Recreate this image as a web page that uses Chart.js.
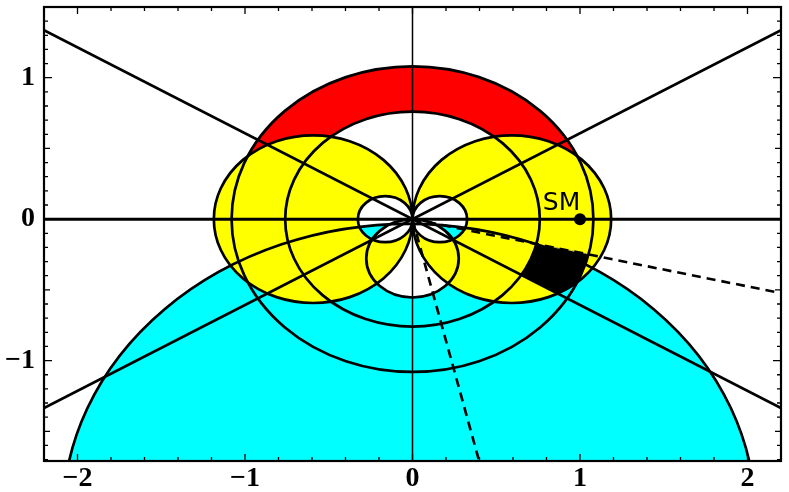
<!DOCTYPE html>
<html>
<head>
<meta charset="utf-8">
<script src="https://cdn.jsdelivr.net/npm/chart.js@4/dist/chart.umd.min.js"></script>
<style>
  html, body { margin: 0; padding: 0; background: #fff; }
  #wrap { width: 789px; height: 492px; }
</style>
</head>
<body>
<div id="wrap"><canvas id="plot"></canvas></div>
<script>
const xTicks = [-2, -1, 0, 1, 2];
const xTickLabels = ['\u22122', '\u22121', '0', '1', '2'];
const yTicks = [-1, 0, 1];
const yTickLabels = ['\u22121', '0', '1'];

// circles as [centre x, centre y, radius]
const cyanDisc = [-0.02, -2.1, 2.067];
const cyanHoles = [[0, -0.278, 0.276]];
const ringRadii = [0.76, 1.08];
const yellowLobes = [[-0.593, 0, 0.593], [0.593, 0, 0.593]];
const yellowHoles = [[-0.163, 0, 0.163], [0.163, 0, 0.163]];
const blackRadii = [0.76, 1.08];
const blackAngles = [-31.3, -13.3];

const solidLines = [
  [{x: -2.2, y: 1.336}, {x: 2.2, y: -1.336}],
  [{x: -2.2, y: -1.336}, {x: 2.2, y: 1.336}]
];
const dashedLines = [
  [{x: 0, y: 0}, {x: 2.2, y: -0.523}],
  [{x: 0, y: 0}, {x: 0.40, y: -1.72}]
];
const smPoint = [{x: 1, y: 0}];
const smLabel = {text: 'SM', x: 0.89, y: 0.064};

const X_MIN = -2.2, X_MAX = 2.2, Y_MIN = -1.71, Y_MAX = 1.5;

function ellipsePath(ctx, xs, ys, c) {
  const px = xs.getPixelForValue(c[0]);
  const py = ys.getPixelForValue(c[1]);
  const rx = Math.abs(xs.getPixelForValue(c[0] + c[2]) - px);
  const ry = Math.abs(ys.getPixelForValue(c[1] + c[2]) - py);
  ctx.moveTo(px + rx, py);
  ctx.ellipse(px, py, rx, ry, 0, 0, Math.PI * 2);
}

function paintLayer(chart, color, shapes, holes) {
  const {ctx, scales: {x: xs, y: ys}} = chart;
  const off = document.createElement('canvas');
  off.width = chart.canvas.width;
  off.height = chart.canvas.height;
  const o = off.getContext('2d');
  o.setTransform(ctx.getTransform());
  o.fillStyle = color;
  shapes.forEach(c => { o.beginPath(); ellipsePath(o, xs, ys, c); o.fill(); });
  o.globalCompositeOperation = 'destination-out';
  holes.forEach(c => { o.beginPath(); ellipsePath(o, xs, ys, c); o.fill(); });
  ctx.save();
  ctx.setTransform(1, 0, 0, 1, 0, 0);
  ctx.drawImage(off, 0, 0);
  ctx.restore();
}

const regionsPlugin = {
  id: 'regions',
  beforeDatasetsDraw(chart) {
    const {ctx, chartArea: a, scales: {x: xs, y: ys}} = chart;
    ctx.save();
    ctx.beginPath();
    ctx.rect(a.left, a.top, a.right - a.left, a.bottom - a.top);
    ctx.clip();

    // red ring
    ctx.fillStyle = '#ff0000';
    ctx.beginPath();
    ringRadii.forEach(r => ellipsePath(ctx, xs, ys, [0, 0, r]));
    ctx.fill('evenodd');

    paintLayer(chart, '#00ffff', [cyanDisc], cyanHoles);
    paintLayer(chart, '#ffff00', yellowLobes, yellowHoles);

    // black sector, only where it lies inside the right lobe
    ctx.save();
    ctx.beginPath();
    ellipsePath(ctx, xs, ys, yellowLobes[1]);
    ctx.clip();
    const cx = xs.getPixelForValue(0), cy = ys.getPixelForValue(0);
    const t0 = -blackAngles[1] * Math.PI / 180, t1 = -blackAngles[0] * Math.PI / 180;
    const rO = blackRadii[1], rI = blackRadii[0];
    ctx.beginPath();
    ctx.ellipse(cx, cy, xs.getPixelForValue(rO) - cx, cy - ys.getPixelForValue(rO), 0, t0, t1, false);
    ctx.ellipse(cx, cy, xs.getPixelForValue(rI) - cx, cy - ys.getPixelForValue(rI), 0, t1, t0, true);
    ctx.closePath();
    ctx.fillStyle = '#000';
    ctx.fill();
    ctx.strokeStyle = '#777';
    ctx.lineWidth = 1;
    ctx.setLineDash([2, 2]);
    ctx.stroke();
    ctx.setLineDash([]);
    ctx.restore();

    // circle outlines
    ctx.strokeStyle = '#000';
    ctx.lineWidth = 2.7;
    const outlines = [cyanDisc, ...cyanHoles, [0, 0, ringRadii[0]], [0, 0, ringRadii[1]], ...yellowLobes, ...yellowHoles];
    outlines.forEach(c => { ctx.beginPath(); ellipsePath(ctx, xs, ys, c); ctx.stroke(); });
    ctx.restore();
  },
  afterDraw(chart) {
    const {ctx, chartArea: a, scales: {x: xs, y: ys}} = chart;
    ctx.save();
    ctx.strokeStyle = '#000';
    ctx.lineWidth = 1.3;
    ctx.beginPath();
    for (let i = -11; i <= 11; i++) {
      const v = i / 5;
      const px = xs.getPixelForValue(v);
      const len = (i % 5 === 0) ? 7 : 4;
      ctx.moveTo(px, a.bottom); ctx.lineTo(px, a.bottom - len);
      ctx.moveTo(px, a.top); ctx.lineTo(px, a.top + len);
    }
    for (let i = -17; i <= 15; i++) {
      const v = i / 10;
      const py = ys.getPixelForValue(v);
      const len = (i % 10 === 0) ? 8 : (i % 5 === 0 ? 6 : 4);
      ctx.moveTo(a.left, py); ctx.lineTo(a.left + len, py);
      ctx.moveTo(a.right, py); ctx.lineTo(a.right - len, py);
    }
    ctx.stroke();
    ctx.lineWidth = 2.2;
    ctx.strokeRect(a.left, a.top, a.right - a.left, a.bottom - a.top);

    ctx.fillStyle = '#000';
    ctx.font = '25px "DejaVu Sans"';
    ctx.textAlign = 'center';
    ctx.textBaseline = 'alphabetic';
    ctx.fillText(smLabel.text, xs.getPixelForValue(smLabel.x), ys.getPixelForValue(smLabel.y));
    ctx.restore();
  }
};

const lineStyle = {showLine: true, pointRadius: 0, borderColor: '#000', backgroundColor: '#000', fill: false};

new Chart(document.getElementById('plot'), {
  type: 'scatter',
  data: {
    datasets: [
      ...solidLines.map(d => ({...lineStyle, data: d, borderWidth: 2.7})),
      ...dashedLines.map(d => ({...lineStyle, data: d, borderWidth: 2.6, borderDash: [9, 6]})),
      {...lineStyle, data: [{x: X_MIN, y: 0}, {x: X_MAX, y: 0}], borderWidth: 3},
      {...lineStyle, data: [{x: 0, y: Y_MIN}, {x: 0, y: Y_MAX}], borderWidth: 1.5},
      {data: smPoint, pointRadius: 6, pointBackgroundColor: '#000', pointBorderWidth: 0, showLine: false}
    ]
  },
  options: {
    responsive: true,
    maintainAspectRatio: false,
    animation: false,
    layout: {padding: {top: 7, right: 8, left: 0, bottom: 0}},
    plugins: {legend: {display: false}, tooltip: {enabled: false}},
    scales: {
      x: {
        type: 'linear', min: X_MIN, max: X_MAX,
        grid: {display: false, drawTicks: false},
        border: {display: false},
        afterBuildTicks: s => { s.ticks = xTicks.map(v => ({value: v})); },
        afterFit: s => { s.height = 31; s.paddingLeft = 0; s.paddingRight = 0; },
        ticks: {
          padding: 1, color: '#000', autoSkip: false, maxRotation: 0,
          font: {family: '"Liberation Serif"', size: 28, weight: 'bold'},
          callback: (v) => xTickLabels[xTicks.indexOf(v)]
        }
      },
      y: {
        type: 'linear', min: Y_MIN, max: Y_MAX,
        grid: {display: false, drawTicks: false},
        border: {display: false},
        afterBuildTicks: s => { s.ticks = yTicks.map(v => ({value: v})); },
        afterFit: s => { s.width = 44; s.paddingTop = 0; s.paddingBottom = 0; },
        ticks: {
          padding: 9, color: '#000', autoSkip: false,
          font: {family: '"Liberation Serif"', size: 28, weight: 'bold'},
          callback: (v) => yTickLabels[yTicks.indexOf(v)]
        }
      }
    }
  },
  plugins: [regionsPlugin]
});
</script>
</body>
</html>
